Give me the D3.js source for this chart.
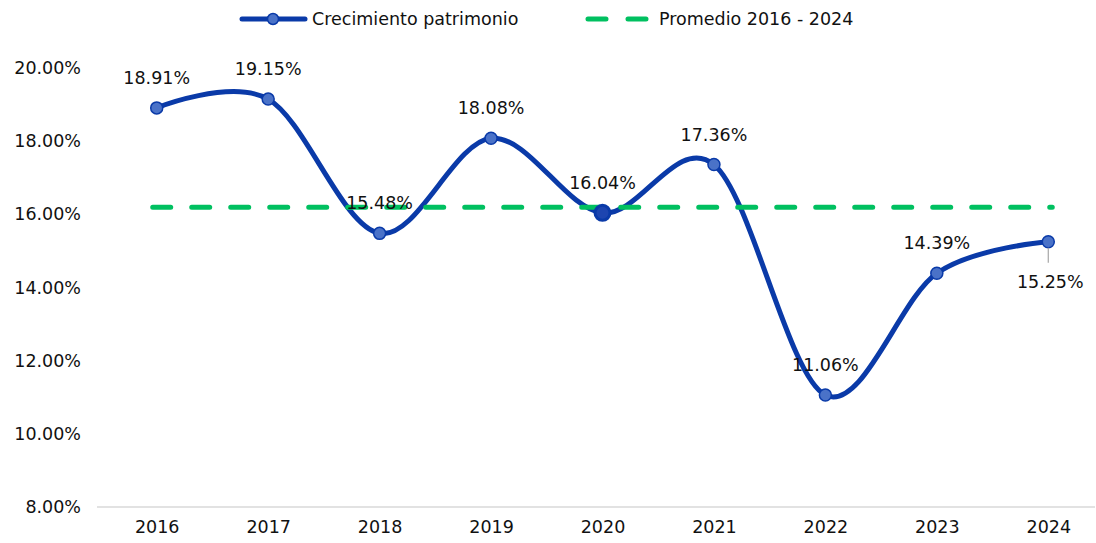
<!DOCTYPE html>
<html>
<head>
<meta charset="utf-8">
<script src="https://cdn.jsdelivr.net/npm/d3@7"></script>
<style>
  body { margin: 0; background: #fff; }
  text { font-family: "DejaVu Sans", sans-serif; fill: #111; }
</style>
</head>
<body>
<div id="chart"></div>
<script>
// data
var years = ["2016", "2017", "2018", "2019", "2020", "2021", "2022", "2023", "2024"];
var growth = [18.91, 19.15, 15.48, 18.08, 16.04, 17.36, 11.06, 14.39, 15.25];
var yTicks = [8, 10, 12, 14, 16, 18, 20];
var seriesNames = ["Crecimiento patrimonio", "Promedio 2016 - 2024"];

var avg = d3.mean(growth);

var svgWidth = 1096;
var svgHeight = 543;
var fs = "17.5px";

var svg = d3.select("#chart")
  .append("svg")
  .attr("width", svgWidth)
  .attr("height", svgHeight);

var x = d3.scalePoint()
  .domain(years)
  .range([101, 1104])
  .padding(0.5);

var y = d3.scaleLinear()
  .domain([8, 20])
  .range([507, 68]);

// y tick labels (no axis line)
svg.append("g")
  .selectAll("text")
  .data(yTicks)
  .enter()
  .append("text")
  .attr("x", 81)
  .attr("y", d => y(d))
  .attr("dy", "0.35em")
  .attr("text-anchor", "end")
  .style("font-size", fs)
  .text(d => d.toFixed(2) + "%");

// x axis
var xAxis = svg.append("g")
  .attr("transform", "translate(0, 507)")
  .call(d3.axisBottom(x).tickSize(0).tickPadding(14));
xAxis.select(".domain")
  .attr("d", "M97,0H1095")
  .attr("stroke", "#d9d9d9")
  .attr("stroke-width", 1.5);
xAxis.selectAll("text")
  .style("font-size", fs)
  .style("font-family", "'DejaVu Sans', sans-serif")
  .attr("fill", "#111");

// smoothed line
var line = d3.line()
  .x((d, i) => x(years[i]))
  .y(d => y(d))
  .curve(d3.curveCardinal.tension(0));

svg.append("path")
  .datum(growth)
  .attr("fill", "none")
  .attr("stroke", "#0a3aa8")
  .attr("stroke-width", 5)
  .attr("stroke-linecap", "round")
  .attr("d", line);

// average dashed line
svg.append("line")
  .attr("x1", x("2016") - 4)
  .attr("x2", x("2024") + 4)
  .attr("y1", y(avg))
  .attr("y2", y(avg))
  .attr("stroke", "#00c060")
  .attr("stroke-width", 5)
  .attr("stroke-linecap", "round")
  .attr("stroke-dasharray", "18,21");

// markers
svg.append("g")
  .selectAll("circle")
  .data(growth)
  .enter()
  .append("circle")
  .attr("cx", (d, i) => x(years[i]))
  .attr("cy", d => y(d))
  .attr("r", (d, i) => years[i] === "2020" ? 7.5 : 6)
  .attr("fill", (d, i) => years[i] === "2020" ? "#1d45b0" : "#4a72c8")
  .attr("stroke", "#0a3aa8")
  .attr("stroke-width", (d, i) => years[i] === "2020" ? 3 : 1.5);

// leader line for the last label
var last = growth.length - 1;
svg.append("line")
  .attr("x1", x(years[last]))
  .attr("x2", x(years[last]))
  .attr("y1", y(growth[last]) + 6)
  .attr("y2", y(growth[last]) + 21)
  .attr("stroke", "#a6a6a6")
  .attr("stroke-width", 1.2);

// data labels
svg.append("g")
  .selectAll("text")
  .data(growth)
  .enter()
  .append("text")
  .attr("x", (d, i) => i === last ? x(years[i]) + 2 : x(years[i]))
  .attr("y", (d, i) => i === last ? y(d) + 40 : y(d) - 30)
  .attr("dy", "0.35em")
  .attr("text-anchor", "middle")
  .style("font-size", fs)
  .text(d => d.toFixed(2) + "%");

// legend
var lg = svg.append("g");
lg.append("line")
  .attr("x1", 242).attr("x2", 305)
  .attr("y1", 19).attr("y2", 19)
  .attr("stroke", "#0a3aa8")
  .attr("stroke-width", 5)
  .attr("stroke-linecap", "round");
lg.append("circle")
  .attr("cx", 273).attr("cy", 19).attr("r", 5.5)
  .attr("fill", "#4a72c8")
  .attr("stroke", "#0a3aa8")
  .attr("stroke-width", 1.5);
lg.append("text")
  .attr("x", 312).attr("y", 19).attr("dy", "0.35em")
  .style("font-size", fs)
  .text(seriesNames[0]);
lg.append("line")
  .attr("x1", 588).attr("x2", 648)
  .attr("y1", 19).attr("y2", 19)
  .attr("stroke", "#00c060")
  .attr("stroke-width", 5)
  .attr("stroke-linecap", "round")
  .attr("stroke-dasharray", "18,22");
lg.append("text")
  .attr("x", 659).attr("y", 19).attr("dy", "0.35em")
  .style("font-size", fs)
  .text(seriesNames[1]);
</script>
</body>
</html>
